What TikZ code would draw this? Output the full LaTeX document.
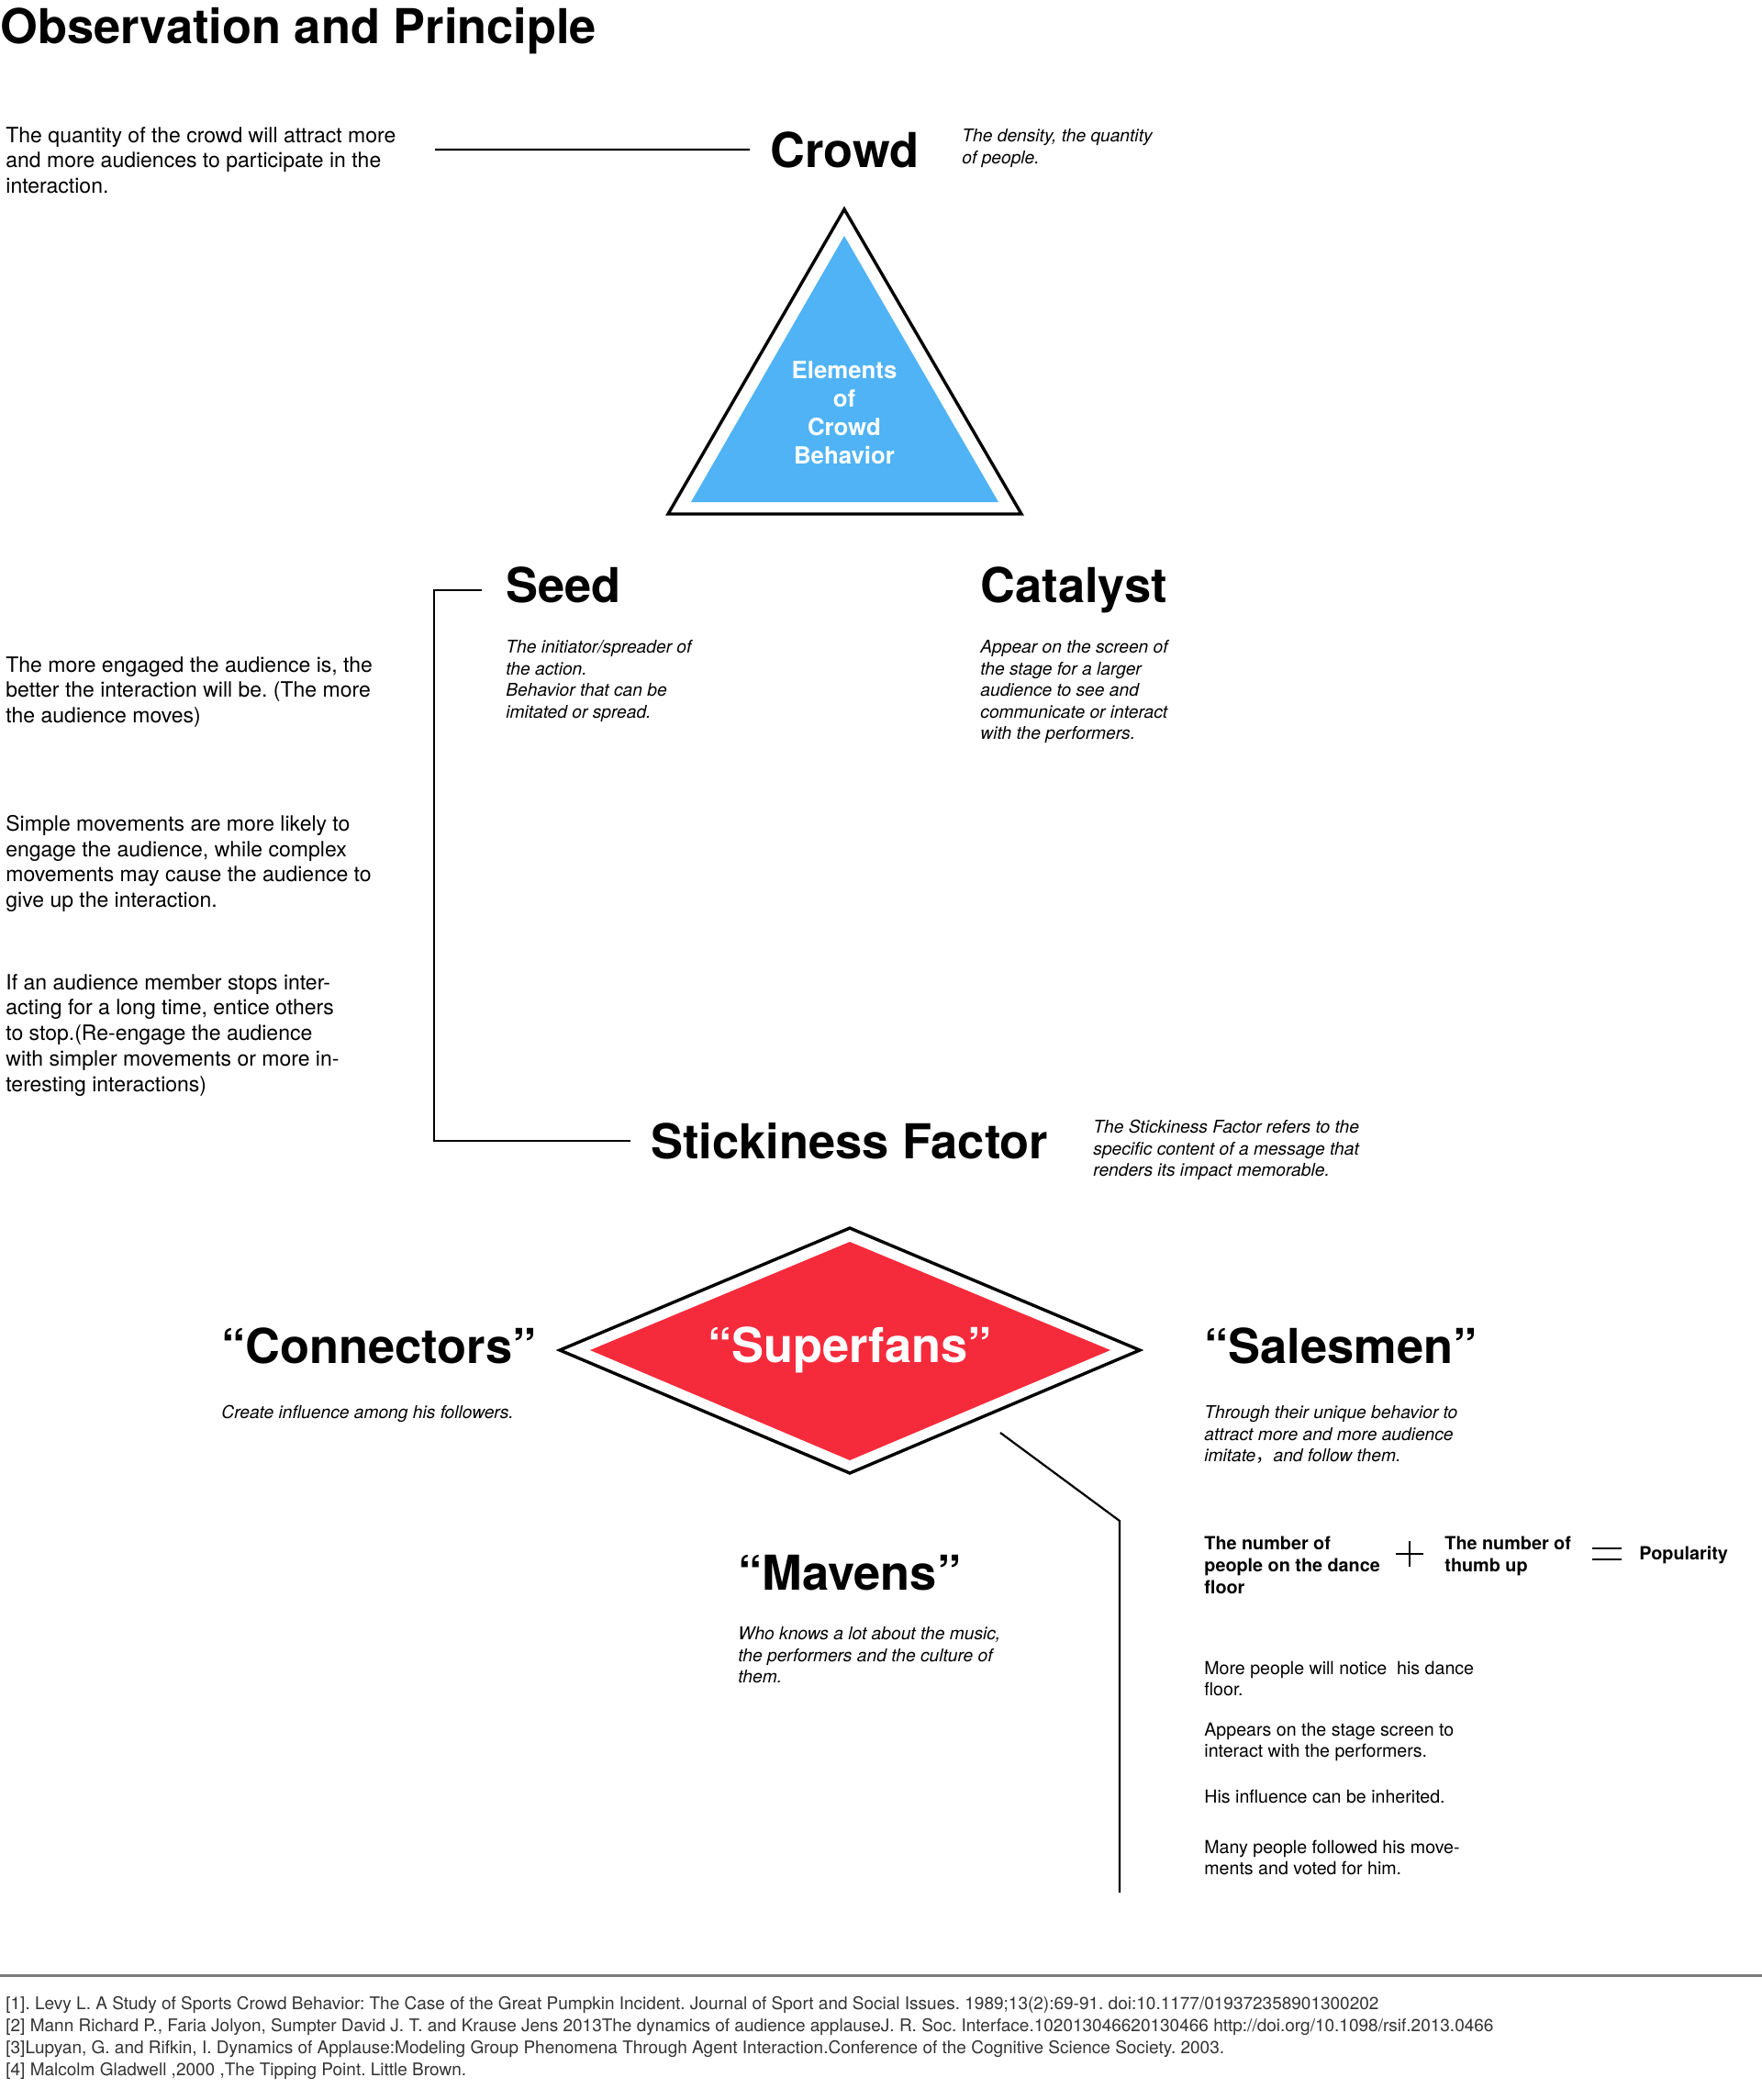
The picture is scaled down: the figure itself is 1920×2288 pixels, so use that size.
\documentclass[tikz,border=0pt]{standalone}
\usepackage{fontspec}
\setmainfont{TeX Gyre Heros}
\newfontfamily\cjk{Noto Sans CJK SC}
\definecolor{crowdblue}{HTML}{4FB3F5}
\definecolor{fanred}{HTML}{F52B3C}
\definecolor{rulegray}{HTML}{7A7A7A}
\frenchspacing

\begin{document}
\begin{tikzpicture}[x=0.5pt, y=-0.5pt,
		headtxt/.style={anchor=base west, inner sep=0pt, font=\bfseries\fontsize{26.2}{31}\selectfont},
		bodytxt/.style={anchor=north west, inner sep=0pt, align=left, font=\fontsize{11.5}{13.85}\selectfont},
		notetxt/.style={anchor=north west, inner sep=0pt, align=left, font=\itshape\fontsize{9.6}{11.8}\selectfont},
		pointtxt/.style={anchor=north west, inner sep=0pt, align=left, font=\fontsize{9.8}{11.6}\selectfont},
		sumtxt/.style={anchor=north west, inner sep=0pt, align=left, font=\bfseries\fontsize{9.9}{12}\selectfont},
		reftxt/.style={anchor=north west, inner sep=0pt, align=left, text=black!80, font=\fontsize{9.5}{11.9}\selectfont},
		linkline/.style={line width=1.1pt},
		shapeline/.style={draw=black, fill=white, line width=1.7pt, line join=miter}]
			\useasboundingbox (0,0) rectangle (1920,2288);
			
			\node[headtxt] (title) at (0,47) {Observation and Principle};
			
			% crowd
			\node[bodytxt] (quantity) at (6,138) {The quantity of the crowd will attract more\\and more audiences to participate in the\\interaction.};
			\node[headtxt] (crowd) at (839,182) {Crowd};
			\node[notetxt] (density) at (1048,140) {The density, the quantity\\of people.};
			\coordinate (crowdtail) at (474,163);
			\draw[linkline] (crowdtail) -- ([xshift=-11pt]crowd.west);
			
			% triangle
			\coordinate (tA) at (920,228);
			\coordinate (tB) at (728,560);
			\coordinate (tC) at (1113,560);
			\coordinate (iA) at (920,257);
			\coordinate (iB) at (753,547);
			\coordinate (iC) at (1088,547);
			\draw[shapeline] (tA) -- (tB) -- (tC) -- cycle;
			\fill[crowdblue] (iA) -- (iB) -- (iC) -- cycle;
			\node[align=center, text=white, font=\bfseries\fontsize{12.9}{15.5}\selectfont] (elements) at (920,450) {Elements\\of\\Crowd\\Behavior};
			
			% seed, catalyst
			\node[headtxt] (seed) at (551,656) {Seed};
			\node[headtxt] (catalyst) at (1068,656) {Catalyst};
			\node[notetxt] (seednote) at (551,697) {The initiator/spreader of\\the action.\\Behavior that can be\\imitated or spread.};
			\node[notetxt] (catnote) at (1068,697) {Appear on the screen of\\the stage for a larger\\audience to see and\\communicate or interact\\with the performers.};
			
			\node[bodytxt] (engaged) at (6,715) {The more engaged the audience is, the\\better the interaction will be. (The more\\the audience moves)};
			\node[bodytxt] (simple) at (6,888) {Simple movements are more likely to\\engage the audience, while complex\\movements may cause the audience to\\give up the interaction.};
			\node[bodytxt] (stops) at (6,1061) {If an audience member stops inter-\\acting for a long time, entice others\\to stop.(Re-engage the audience\\with simpler movements or more in-\\teresting interactions)};
			
			% stickiness
			\node[headtxt] (sticky) at (709,1262) {Stickiness Factor};
			\node[notetxt] (stickynote) at (1191,1220) {The Stickiness Factor refers to the\\specific content of a message that\\renders its impact memorable.};
			\draw[linkline] ([xshift=-13pt,yshift=-3pt]seed.west) -- ++(-26pt,0) |- ([xshift=-11pt]sticky.west);
			
			% diamond
			\coordinate (dT) at (926,1338);
			\coordinate (dL) at (610,1471);
			\coordinate (dB) at (926,1605);
			\coordinate (dR) at (1242,1471);
			\coordinate (eT) at (926,1353);
			\coordinate (eL) at (643,1471);
			\coordinate (eB) at (926,1591);
			\coordinate (eR) at (1210,1471);
			\draw[shapeline] (dT) -- (dL) -- (dB) -- (dR) -- cycle;
			\fill[fanred] (eT) -- (eL) -- (eB) -- (eR) -- cycle;
			\node[anchor=base, inner sep=0pt, text=white, font=\bfseries\fontsize{26.2}{31}\selectfont] (superfans) at (926,1484) {“Superfans”};
			
			\node[headtxt] (connectors) at (241,1485) {“Connectors”};
			\node[notetxt] (connnote) at (241,1531) {Create influence among his followers.};
			\node[headtxt] (salesmen) at (1312,1485) {“Salesmen”};
			\node[notetxt] (salesnote) at (1312,1531) {Through their unique behavior to\\attract more and more audience\\imitate{\cjk ，}and follow them.};
			\node[headtxt] (mavens) at (804,1732) {“Mavens”};
			\node[notetxt] (mavennote) at (804,1772) {Who knows a lot about the music,\\the performers and the culture of\\them.};
			
			\coordinate (fanlink) at (1090,1561);
			\coordinate (fanbend) at (1220,1657);
			\coordinate (fanend) at (1220,2062);
			\draw[linkline] (fanlink) -- (fanbend) -- (fanend);
			
			% popularity
			\node[sumtxt] (dancers) at (1312,1674) {The number of\\people on the dance\\floor};
			\node[sumtxt] (thumbs) at (1574,1674) {The number of\\thumb up};
			\node[sumtxt] (popularity) at (1786,1684) {Popularity};
			\coordinate (plus) at (1536,1693);
			\coordinate (equals) at (1751,1693);
			\draw[line width=1pt] (plus) +(-15,0) -- +(15,0) (plus) +(0,-14) -- +(0,14);
			\draw[line width=1pt] (equals) +(-16,-6) -- +(16,-6) (equals) +(-16,6) -- +(16,6);
			
			\node[pointtxt] (notice) at (1312,1810) {More people will notice\ \ his dance\\floor.};
			\node[pointtxt] (screen) at (1312,1877) {Appears on the stage screen to\\interact with the performers.};
			\node[pointtxt] (inherit) at (1312,1950) {His influence can be inherited.};
			\node[pointtxt] (voted) at (1312,2005) {Many people followed his move-\\ments and voted for him.};
			
			% references
			\draw[rulegray, line width=1.5pt] (0,2152) -- (1920,2152);
			\node[reftxt] (refs) at (6,2175) {[1]. Levy L. A Study of Sports Crowd Behavior: The Case of the Great Pumpkin Incident. Journal of Sport and Social Issues. 1989;13(2):69-91. doi:10.1177/019372358901300202\\{}[2] Mann Richard P., Faria Jolyon, Sumpter David J. T. and Krause Jens 2013The dynamics of audience applauseJ. R. Soc. Interface.102013046620130466 http://doi.org/10.1098/rsif.2013.0466\\{}[3]Lupyan, G. and Rifkin, I. Dynamics of Applause:Modeling Group Phenomena Through Agent Interaction.Conference of the Cognitive Science Society. 2003.\\{}[4] Malcolm Gladwell ,2000 ,The Tipping Point. Little Brown.};
		\end{tikzpicture}
\end{document}
